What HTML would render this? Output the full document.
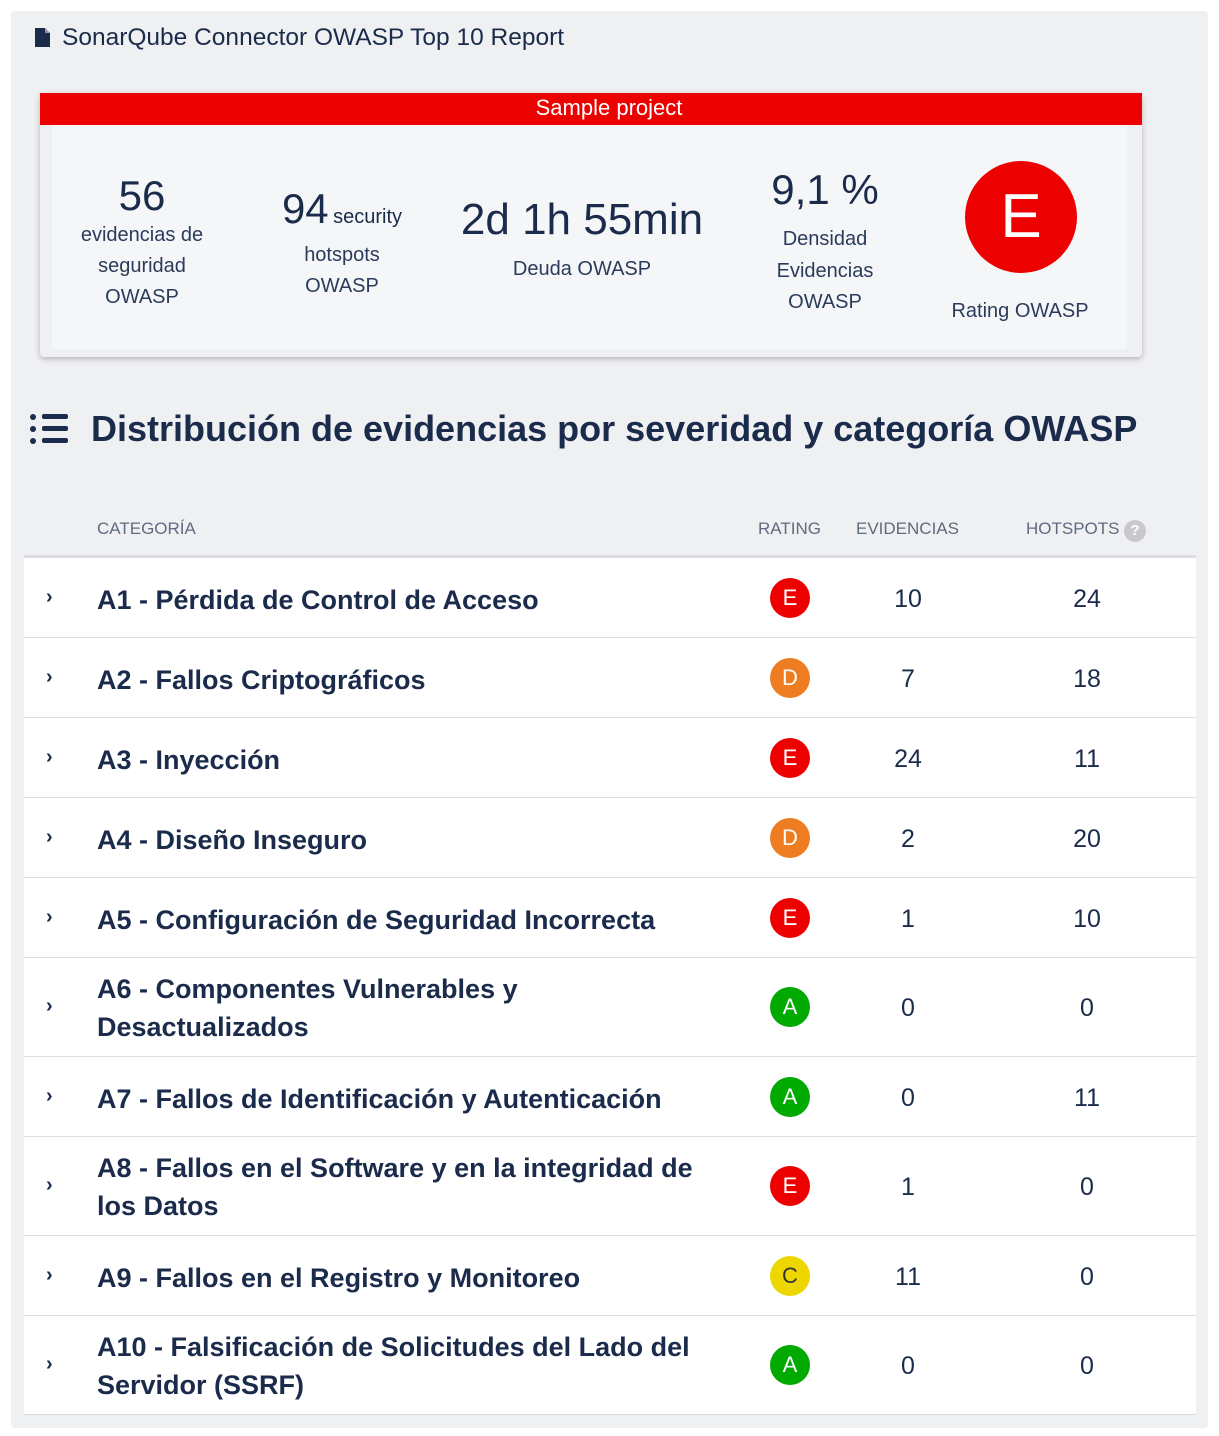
<!DOCTYPE html>
<html><head><meta charset="utf-8">
<style>
body{margin:0;width:1219px;height:1436px;background:#fff;font-family:"Liberation Sans",sans-serif;color:#1b2b4b;position:relative;overflow:hidden}
.abs{position:absolute}
.c{text-align:center}
#panel{left:11px;top:11px;width:1197px;height:1417px;background:#eff0f2;border-radius:4px}
.hdr{font-size:17px;color:#5f6b7f;top:519px}
.row{left:24px;width:1172px;background:#fff;border-bottom:1px solid #dcdde0}
.cat{position:absolute;left:73px;font-weight:bold;font-size:27px;line-height:38px;width:625px}
.chev{position:absolute;left:22px;font-size:20px;font-weight:bold}
.badge{position:absolute;left:746px;width:40px;height:40px;border-radius:50%;color:#fff;text-align:center;line-height:40px;font-size:22px}
.num{position:absolute;font-size:25px;width:100px;text-align:center}
</style></head><body>
<div id="panel" class="abs"></div>
<svg class="abs" style="left:35px;top:28px" width="16" height="20"><path d="M0 0H10L15 5V19H0Z" fill="#1b2b4b"/><path d="M10 0V5H15" fill="#fff" opacity=".5"/></svg>
<div class="abs" style="left:62px;top:24px;font-size:24.5px;color:#1b2b4b">SonarQube Connector OWASP Top 10 Report</div>

<div class="abs" style="left:40px;top:93px;width:1102px;height:264px;background:#eff0f2;border-radius:4px;box-shadow:0 2px 6px rgba(0,0,0,.25)"></div>
<div class="abs c" style="left:40px;top:93px;width:1102px;height:32px;background:#ec0000;color:#fff;font-size:22px;line-height:30px"><span style="position:relative;left:18px">Sample project</span></div>
<div class="abs" style="left:52px;top:125px;width:1075px;height:224px;background:#f5f6f8"></div>

<div class="abs c" style="left:62px;top:172px;width:160px"><div style="font-size:42px;line-height:48px">56</div><div style="font-size:20px;line-height:31px;color:#2b3b5b">evidencias de seguridad OWASP</div></div>
<div class="abs c" style="left:268px;top:184px;width:148px"><div style="line-height:50px"><span style="font-size:42px">94</span> <span style="font-size:20px">security</span></div><div style="font-size:20px;line-height:31px;color:#2b3b5b;margin-top:-4px">hotspots OWASP</div></div>
<div class="abs c" style="left:440px;top:192px;width:284px"><div style="font-size:44px;line-height:56px">2d 1h 55min</div><div style="font-size:20px;line-height:31px;color:#2b3b5b;margin-top:6px">Deuda OWASP</div></div>
<div class="abs c" style="left:750px;top:162px;width:150px"><div style="font-size:42px;line-height:56px">9,1 %</div><div style="font-size:20px;line-height:31.5px;color:#2b3b5b;margin-top:6px">Densidad Evidencias OWASP</div></div>
<div class="abs c" style="left:965px;top:161px;width:112px;height:112px;border-radius:50%;background:#ec0000;color:#fff;font-size:62px;line-height:112px">E</div>
<div class="abs c" style="left:930px;top:300px;width:180px;font-size:20px;color:#2b3b5b">Rating OWASP</div>

<svg class="abs" style="left:30px;top:413px" width="40" height="32"><g fill="#1b2b4b"><circle cx="3" cy="4" r="3"/><circle cx="3" cy="16" r="3"/><circle cx="3" cy="28" r="3"/><rect x="12" y="1" width="26" height="5" rx="2"/><rect x="12" y="13" width="26" height="5" rx="2"/><rect x="12" y="25" width="26" height="5" rx="2"/></g></svg>
<div class="abs" style="left:91px;top:408px;font-size:36px;font-weight:bold;white-space:nowrap">Distribución de evidencias por severidad y categoría OWASP</div>

<div class="abs hdr" style="left:97px">CATEGORÍA</div>
<div class="abs hdr" style="left:758px">RATING</div>
<div class="abs hdr" style="left:856px">EVIDENCIAS</div>
<div class="abs hdr" style="left:1026px">HOTSPOTS</div>
<div class="abs c" style="left:1124px;top:520px;width:22px;height:22px;border-radius:50%;background:#c8c9cc;color:#fff;font-weight:bold;font-size:15px;line-height:22px">?</div>
<div class="abs" style="left:24px;top:555px;width:1172px;height:3px;background:#dcdde0"></div>

<div id="rows"></div>
<script>
const categories=["A1 - Pérdida de Control de Acceso","A2 - Fallos Criptográficos","A3 - Inyección","A4 - Diseño Inseguro","A5 - Configuración de Seguridad Incorrecta","A6 - Componentes Vulnerables y Desactualizados","A7 - Fallos de Identificación y Autenticación","A8 - Fallos en el Software y en la integridad de los Datos","A9 - Fallos en el Registro y Monitoreo","A10 - Falsificación de Solicitudes del Lado del Servidor (SSRF)"];
const ratings=["E","D","E","D","E","A","A","E","C","A"];
const evidences=[10,7,24,2,1,0,0,1,11,0];
const hotspots=[24,18,11,20,10,0,11,0,0,0];
const twoLine=[false,false,false,false,false,true,false,true,false,true];
const ratingColors={A:"#00aa00",B:"#b0d513",C:"#eed600",D:"#ed7d20",E:"#ec0000"};
const container=document.getElementById('rows');
let rowTop=558;
categories.forEach((cat,i)=>{
  const h=twoLine[i]?98:79;
  const row=document.createElement('div');
  row.className='abs row';
  row.style.top=rowTop+'px';row.style.height=h+'px';
  
  
  const mid=h/2;
  const chev=document.createElement('div');chev.className='chev';chev.textContent='›';chev.style.top=(mid-12)+'px';
  
  
  const c=document.createElement('div');c.className='cat';c.textContent=cat;c.style.top=(twoLine[i]?mid-37:mid-17)+'px';
  
  
  const b=document.createElement('div');b.className='badge';b.textContent=ratings[i];b.style.top=(mid-20)+'px';
  b.style.background=ratingColors[ratings[i]];
  if(ratings[i]==='C'){b.style.color='#333';}
  
  
  const e=document.createElement('div');e.className='num';e.textContent=evidences[i];e.style.left='834px';e.style.top=(mid-13)+'px';
  
  
  const hs=document.createElement('div');hs.className='num';hs.textContent=hotspots[i];hs.style.left='1013px';hs.style.top=(mid-13)+'px';
  
  
  row.append(chev,c,b,e,hs);
  container.appendChild(row);
  rowTop+=h+1;
});
</script>
</body></html>
